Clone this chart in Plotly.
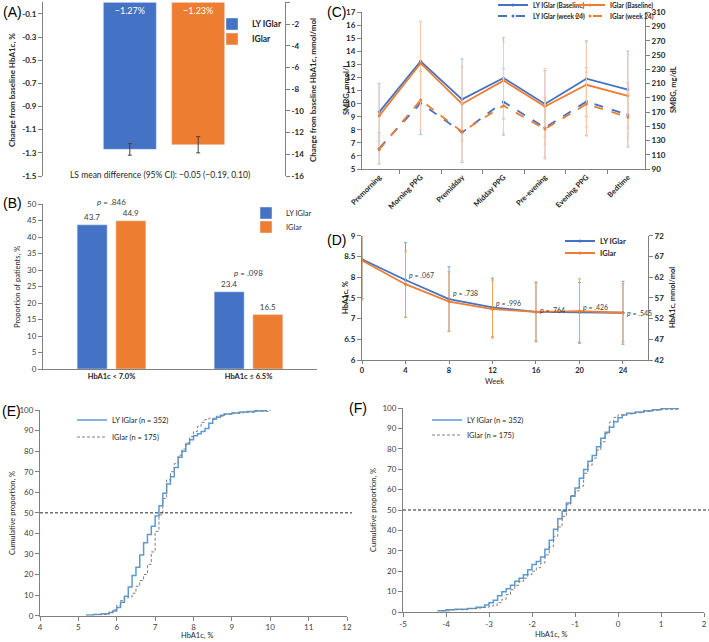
import plotly.graph_objects as go

W, H = 709, 642


def xp(px):
    return px / W


def yp(py):
    return 1 - py / H


FONT = "Lato"
BLUE = "#4472C4"
ORANGE = "#ED7D31"
AXIS = "#808080"
TXT = "#404040"

# ---- (A) change from baseline ----
a_groups = ["LY IGlar", "IGlar"]
a_change = [-1.27, -1.23]
a_err = [0.05, 0.07]
a_labels = ["\u22121.27%", "\u22121.23%"]
a_ticks = [-0.1, -0.3, -0.5, -0.7, -0.9, -1.1, -1.3, -1.5]
a_ticktext = ["-0.1", "-0.3", "-0.5", "-0.7", "-0.9", "-1.1", "-1.3", "-1.5"]
a_rticks = [0, -2, -4, -6, -8, -10, -12, -14, -16]
a_rticktext = ["0", "-2", "-4", "-6", "-8", "-10", "-12", "-14", "-16"]

# ---- (B) proportion reaching target ----
b_cats = ["HbA1c < 7.0%", "HbA1c \u2264 6.5%"]
b_ly = [43.7, 23.4]
b_ig = [44.9, 16.5]
b_p = ["<i>p</i> = .846", "<i>p</i> = .098"]

# ---- (C) 7-point SMBG ----
c_cats = ["Premorning", "Morning PPG", "Premidday", "Midday PPG",
          "Pre-evening", "Evening PPG", "Bedtime"]
c_ly_base = [9.36, 13.25, 10.33, 11.97, 9.98, 11.92, 11.08]
c_ig_base = [9.07, 13.1, 9.98, 11.77, 9.79, 11.45, 10.6]
c_ly_w24 = [6.58, 10.05, 7.8, 10.14, 8.17, 10.16, 9.15]
c_ig_w24 = [6.48, 10.28, 7.85, 9.85, 8.06, 9.97, 8.98]
c_ly_base_sd = [2.2, 3.05, 3.1, 3.08, 2.55, 2.9, 2.95]
c_ig_base_sd = [2.25, 3.2, 2.9, 2.95, 2.9, 3.25, 3.2]
c_ly_w24_sd = [1.2, 2.4, 2.3, 2.55, 2.3, 2.6, 2.45]
c_ig_w24_sd = [1.1, 2.3, 2.2, 2.1, 2.3, 2.45, 2.3]

# ---- (D) HbA1c over time ----
d_weeks = [0, 4, 8, 12, 16, 20, 24]
d_ly = [8.43, 7.93, 7.47, 7.27, 7.16, 7.15, 7.14]
d_ig = [8.40, 7.83, 7.41, 7.23, 7.16, 7.18, 7.14]
d_ly_sd = [0.95, 0.9, 0.78, 0.71, 0.72, 0.72, 0.76]
d_ig_sd = [0.95, 0.8, 0.72, 0.7, 0.7, 0.78, 0.7]
d_p = ["<i>p</i> = .067", "<i>p</i> = .738", "<i>p</i> = .996",
       "<i>p</i> = .764", "<i>p</i> = .426", "<i>p</i> = .545"]
d_yticktext = ["6", "6.5", "7", "7.5", "8", "8.5", "9"]

# ---- (E) cumulative distribution of endpoint HbA1c ----
e_ly_x = [5.2, 5.4, 5.6, 5.8, 5.9, 6.0, 6.1, 6.2, 6.3, 6.4, 6.5, 6.6, 6.7, 6.8,
          6.9, 7.0, 7.1, 7.2, 7.3, 7.4, 7.5, 7.6, 7.7, 7.8, 7.9, 8.0, 8.1, 8.2,
          8.3, 8.4, 8.5, 8.6, 8.7, 8.8, 9.0, 9.2, 9.4, 9.6, 9.9]
e_ly_y = [0.3, 0.6, 0.9, 1.5, 2.3, 4.0, 6.5, 9.5, 14.0, 19.5, 23.5, 29.5, 35.5,
          39.5, 43.5, 48.5, 53.5, 59.5, 64.0, 67.5, 72.0, 77.0, 80.0, 83.5,
          85.5, 87.5, 88.5, 89.5, 91.0, 93.5, 95.5, 96.5, 97.5, 98.0, 98.5,
          99.0, 99.3, 99.6, 100.0]
e_ig_x = [5.4, 5.8, 5.9, 6.0, 6.1, 6.2, 6.3, 6.4, 6.5, 6.6, 6.7, 6.8, 6.9, 7.0,
          7.1, 7.2, 7.3, 7.4, 7.5, 7.6, 7.7, 7.8, 7.9, 8.0, 8.1, 8.2, 8.3, 8.4,
          8.6, 8.8, 9.0, 9.3, 9.6, 10.0]
e_ig_y = [0.6, 1.7, 2.9, 5.1, 7.4, 8.6, 9.1, 10.9, 14.3, 17.1, 20.0, 25.0, 31.0,
          41.0, 49.0, 57.0, 66.0, 70.0, 74.0, 78.0, 81.0, 84.0, 87.0, 89.5,
          92.0, 94.0, 95.4, 96.0, 97.0, 98.0, 98.5, 98.9, 99.4, 100.0]

# ---- (F) cumulative distribution of change in HbA1c ----
f_ly_x = [-4.2, -4.0, -3.8, -3.5, -3.3, -3.1, -3.0, -2.9, -2.8, -2.7, -2.6,
          -2.5, -2.4, -2.3, -2.2, -2.1, -2.0, -1.9, -1.8, -1.7, -1.6, -1.5,
          -1.4, -1.3, -1.2, -1.1, -1.0, -0.9, -0.8, -0.7, -0.6, -0.5, -0.4,
          -0.3, -0.2, -0.1, 0.0, 0.1, 0.2, 0.4, 0.6, 0.8, 1.0, 1.4]
f_ly_y = [0.6, 1.1, 1.4, 1.7, 2.3, 3.4, 4.5, 5.7, 8.0, 9.9, 11.4, 13.1, 15.1,
          16.5, 18.2, 20.7, 23.3, 24.7, 27.0, 30.7, 35.2, 40.6, 45.7, 49.4,
          53.4, 56.8, 60.8, 65.6, 69.9, 73.9, 76.7, 81.0, 85.2, 88.1, 90.6,
          93.2, 95.2, 96.6, 97.4, 98.0, 98.6, 99.1, 99.7, 100.0]
f_ig_x = [-4.1, -3.9, -3.5, -3.2, -3.0, -2.9, -2.8, -2.7, -2.6, -2.5, -2.4,
          -2.3, -2.2, -2.1, -2.0, -1.9, -1.8, -1.7, -1.6, -1.5, -1.4, -1.3,
          -1.2, -1.1, -1.0, -0.9, -0.8, -0.7, -0.6, -0.5, -0.4, -0.3, -0.2,
          -0.1, 0.0, 0.2, 0.4, 0.6, 0.8, 1.0, 1.4]
f_ig_y = [0.6, 1.1, 1.7, 2.3, 2.9, 3.4, 4.6, 6.3, 8.6, 10.9, 13.1, 14.9, 16.6,
          18.3, 20.0, 21.7, 24.0, 28.0, 32.0, 37.1, 41.7, 46.9, 52.6, 57.1,
          59.4, 61.7, 68.0, 72.0, 75.4, 79.4, 83.4, 87.4, 93.1, 95.4, 96.6,
          97.1, 97.7, 98.3, 98.9, 99.4, 100.0]
f_xticks = [-5, -4, -3, -2, -1, 0, 1, 2]
f_xticktext = ["-5", "-4", "-3", "-2", "-1", "0", "1", "2"]
cdf_names = ["LY IGlar (n = 352)", "IGlar (n = 175)"]

fig = go.Figure()

# (A) bars
for i, col in enumerate([BLUE, ORANGE]):
    fig.add_trace(go.Bar(
        x=[""], y=[a_change[i]], name=a_groups[i], marker_color=col,
        error_y=dict(type="data", array=[a_err[i]], color="#404040",
                     thickness=1, width=2),
        text=[a_labels[i]], textposition="inside", insidetextanchor="start",
        textfont=dict(color="white", size=9, family=FONT),
        xaxis="x", yaxis="y", legend="legend15" if i == 0 else "legend2"))

# (B) bars
fig.add_trace(go.Bar(x=b_cats, y=b_ly, name="LY IGlar", marker_color=BLUE,
                     text=b_ly, textposition="outside",
                     textfont=dict(size=8, color=TXT, family=FONT),
                     xaxis="x2", yaxis="y3", legend="legend3", cliponaxis=False))
fig.add_trace(go.Bar(x=b_cats, y=b_ig, name="IGlar", marker_color=ORANGE,
                     text=b_ig, textposition="outside",
                     textfont=dict(size=8, color=TXT, family=FONT),
                     xaxis="x2", yaxis="y3", legend="legend4", cliponaxis=False))

# (C) SMBG profiles
c_series = [
    ("LY IGlar (Baseline)", c_ly_base, c_ly_base_sd, BLUE, "solid", "#9DC3E6", "legend5"),
    ("LY IGlar (week 24)", c_ly_w24, c_ly_w24_sd, BLUE, "dash", "#9DC3E6", "legend6"),
    ("IGlar (Baseline)", c_ig_base, c_ig_base_sd, ORANGE, "solid", "#F8CBAD", "legend7"),
    ("IGlar (week 24)", c_ig_w24, c_ig_w24_sd, ORANGE, "dash", "#F8CBAD", "legend8"),
]
for name, vals, sd, col, dash, ecol, lg in c_series:
    fig.add_trace(go.Scatter(
        x=c_cats, y=vals, name=name, mode="lines+markers",
        line=dict(color=col, width=1.8, dash=dash),
        marker=dict(size=3, color=col),
        error_y=dict(type="data", array=sd, color=ecol, thickness=1, width=1.5),
        xaxis="x3", yaxis="y4", legend=lg))

# (D) HbA1c over time
for name, vals, sd, col, ecol, lg in [
        ("LY IGlar", d_ly, d_ly_sd, BLUE, "#6FA8DC", "legend9"),
        ("IGlar", d_ig, d_ig_sd, ORANGE, "#F5A05A", "legend10")]:
    fig.add_trace(go.Scatter(
        x=d_weeks, y=vals, name=name, mode="lines+markers",
        line=dict(color=col, width=1.8), marker=dict(size=3, color=col),
        error_y=dict(type="data", array=sd, color=ecol, thickness=1, width=1.5),
        xaxis="x4", yaxis="y6", legend=lg))

# (E) and (F) cumulative distributions
for xs, ys, xa, ya, lg in [(e_ly_x, e_ly_y, "x5", "y8", "legend11"),
                           (f_ly_x, f_ly_y, "x6", "y9", "legend13")]:
    fig.add_trace(go.Scatter(x=xs, y=ys, name=cdf_names[0], mode="lines",
                             line=dict(color="#5B9BD5", width=1.5, shape="hv"),
                             xaxis=xa, yaxis=ya, legend=lg))
for xs, ys, xa, ya, lg in [(e_ig_x, e_ig_y, "x5", "y8", "legend12"),
                           (f_ig_x, f_ig_y, "x6", "y9", "legend14")]:
    fig.add_trace(go.Scatter(x=xs, y=ys, name=cdf_names[1], mode="lines",
                             line=dict(color="#808080", width=1,
                                       dash="3px,2px", shape="hv"),
                             xaxis=xa, yaxis=ya, legend=lg))

# empty traces so the secondary (right-hand) axes get drawn
for xa, ya in [("x", "y2"), ("x3", "y5"), ("x4", "y7")]:
    fig.add_trace(go.Scatter(x=[], y=[], xaxis=xa, yaxis=ya,
                             showlegend=False, hoverinfo="skip"))

bold_tick = dict(size=8, family=FONT, color="#262626", weight="bold")
reg_tick = dict(size=8, family=FONT, color=TXT)
ax_common = dict(showgrid=False, zeroline=False, linecolor=AXIS,
                 ticks="outside", ticklen=4, tickcolor=AXIS, automargin=False)

layout = dict(
    width=W, height=H, margin=dict(l=0, r=0, t=0, b=0, autoexpand=False),
    paper_bgcolor="white", plot_bgcolor="white",
    font=dict(family=FONT, size=8, color=TXT),
    barmode="group", bargap=0.435, bargroupgap=0.225,
    # (A)
    xaxis=dict(domain=[xp(43), xp(285)], anchor="y", type="category",
               showline=False, showticklabels=False, ticks="",
               showgrid=False, zeroline=False, automargin=False),
    yaxis=dict(domain=[yp(176), yp(2.3)], anchor="x", range=[-1.5, 0],
               tickvals=a_ticks, ticktext=a_ticktext, showline=True,
               tickfont=bold_tick, **ax_common),
    yaxis2=dict(overlaying="y", side="right", anchor="x", range=[-16, 0],
                tickvals=a_rticks, ticktext=a_rticktext, showline=True,
                tickfont=bold_tick, **ax_common),
    # (B)
    xaxis2=dict(domain=[xp(43), xp(317)], anchor="y3", type="category",
                showline=True, linecolor=AXIS, ticks="", showgrid=False,
                automargin=False,
                tickfont=dict(size=7.5, family=FONT, color="#262626",
                              weight="bold")),
    yaxis3=dict(domain=[yp(369), yp(204)], anchor="x2", range=[0, 50],
                dtick=5, showline=True, tickfont=reg_tick, **ax_common),
    # (C)
    xaxis3=dict(domain=[xp(362), xp(645)], anchor="y4", type="category",
                showline=True, tickson="boundaries", tickangle=-45,
                tickfont=dict(size=7.5, family=FONT, color="#262626",
                              weight="bold"), **ax_common),
    yaxis4=dict(domain=[yp(169), yp(12.3)], anchor="x3", range=[5, 17],
                dtick=1, showline=True, tickfont=bold_tick, **ax_common),
    yaxis5=dict(overlaying="y4", side="right", anchor="x3", range=[90, 310],
                tick0=90, dtick=20, showline=True, tickfont=bold_tick,
                **ax_common),
    # (D)
    xaxis4=dict(domain=[xp(362), xp(648)], anchor="y6", range=[0, 26.3],
                tickvals=d_weeks, showline=True,
                tickfont=dict(size=7.5, family=FONT, color="#262626",
                              weight="bold"),
                **dict(ax_common, ticklen=3)),
    yaxis6=dict(domain=[yp(360), yp(235.7)], anchor="x4", range=[6, 9],
                tickvals=[6, 6.5, 7, 7.5, 8, 8.5, 9], ticktext=d_yticktext,
                showline=True, tickfont=bold_tick, **ax_common),
    yaxis7=dict(overlaying="y6", side="right", anchor="x4", range=[42, 72],
                tickvals=[42, 47, 52, 57, 62, 67, 72], showline=True,
                tickfont=bold_tick, **ax_common),
    # (E)
    xaxis5=dict(domain=[xp(40), xp(347)], anchor="y8", range=[4, 12],
                dtick=1, showline=True, tickfont=reg_tick, **ax_common),
    yaxis8=dict(domain=[yp(615.7), yp(410)], anchor="x5", range=[0, 100],
                dtick=10, showline=True, tickfont=reg_tick, **ax_common),
    # (F)
    xaxis6=dict(domain=[xp(403), xp(704)], anchor="y9", range=[-5, 2],
                tickvals=f_xticks, ticktext=f_xticktext, showline=True,
                tickfont=reg_tick, **ax_common),
    yaxis9=dict(domain=[yp(612), yp(408)], anchor="x6", range=[0, 100],
                dtick=10, showline=True, tickfont=reg_tick, **ax_common),
)


def leg(text_x, y, size=8, bold=False):
    # one legend per entry; text starts ~40px right of the legend's left edge
    f = dict(size=size, family=FONT, color="#262626")
    if bold:
        f["weight"] = "bold"
    return dict(x=xp(text_x - 40), y=yp(y), xref="container",
                yref="container", xanchor="left", yanchor="middle",
                bgcolor="rgba(0,0,0,0)", font=f, tracegroupgap=0,
                itemwidth=30)


layout["legend15"] = leg(252, 24, 8.5, True)
layout["legend2"] = leg(252, 39, 8.5, True)
layout["legend3"] = leg(286, 213, 7.5)
layout["legend4"] = leg(286, 227, 7.5)
layout["legend5"] = leg(533, 5, 6.5, True)
layout["legend6"] = leg(533, 16, 6.5, True)
layout["legend7"] = leg(610, 5, 6.5, True)
layout["legend8"] = leg(610, 16, 6.5, True)
layout["legend9"] = leg(600, 241, 7.5, True)
layout["legend10"] = leg(600, 253, 7.5, True)
layout["legend11"] = leg(112, 420, 7.5)
layout["legend12"] = leg(112, 437, 7.5)
layout["legend13"] = leg(467, 420, 7.5)
layout["legend14"] = leg(467, 435, 7.5)

fig.update_layout(**layout)

ann = []


def txt(x, y, s, size=8, angle=0, bold=False, anchor="center", family=FONT,
        color="#262626"):
    ann.append(dict(x=xp(x), y=yp(y), xref="paper", yref="paper", text=s,
                    showarrow=False, textangle=angle, xanchor=anchor,
                    yanchor="middle",
                    font=dict(size=size, family=family, color=color,
                              weight="bold" if bold else "normal")))


# panel letters
for lbl, x, y in [("(A)", 1, 12), ("(B)", 1, 203), ("(C)", 325, 12),
                  ("(D)", 325, 240), ("(E)", 0, 411), ("(F)", 347, 408)]:
    txt(x, y, lbl, size=14, anchor="left", family="Liberation Sans",
        color="black")

# axis titles
txt(12, 90, "Change from baseline HbA1c, %", 8, -90, True)
txt(313, 90, "Change from baseline HbA1c, mmol/mol", 8, -90, True)
txt(160, 175, "LS mean difference (95% CI): \u22120.05 (\u22120.19, 0.10)", 8.5)
txt(17, 287, "Proportion of patients, %", 7.5, -90)
txt(346, 90, "SMBG, mmol/L", 7.5, -90, True)
txt(673, 90, "SMBG, mg/dL", 7.5, -90, True)
txt(346, 298, "HbA1c, %", 7.5, -90, True)
txt(673, 298, "HbA1c, mmol/mol", 7.5, -90, True)
txt(494, 381, "Week", 7.5)
txt(12, 513, "Cumulative proportion, %", 7.5, -90)
txt(197, 635, "HbA1c, %", 7.5)
txt(373, 510, "Cumulative proportion, %", 7.5, -90)
txt(551, 634, "HbA1c, %", 7.5)

# p-values in (B)
for cat, s, py in zip(b_cats, b_p, [202, 273]):
    ann.append(dict(x=cat, y=yp(py), xref="x2", yref="paper", text=s,
                    showarrow=False, yanchor="middle",
                    font=dict(size=8, family=FONT, color=TXT)))

# p-values in (D)
d_label_y = [8.05, 7.61, 7.38, 7.2, 7.29, 7.14]
for wk, s, yy in zip(d_weeks[1:], d_p, d_label_y):
    ann.append(dict(x=wk + 0.15, y=yy, xref="x4", yref="y6", text=s,
                    showarrow=False, xanchor="left",
                    font=dict(size=7, family=FONT, color=TXT)))

fig.update_layout(annotations=ann)

# 50% reference lines in (E) and (F)
fig.add_shape(type="line", xref="paper", yref="y9", x0=xp(403), x1=1,
              y0=50, y1=50, line=dict(color="#262626", width=1, dash="3px,2px"))
fig.add_shape(type="line", xref="paper", yref="y8", x0=xp(40), x1=xp(352),
              y0=50, y1=50, line=dict(color="#262626", width=1, dash="3px,2px"))

# the page body has a default 8px margin; drop it so the figure sits at 0,0
fig.write_html("out.html", config={"displayModeBar": False},
               post_script="document.body.style.margin='0px';")
